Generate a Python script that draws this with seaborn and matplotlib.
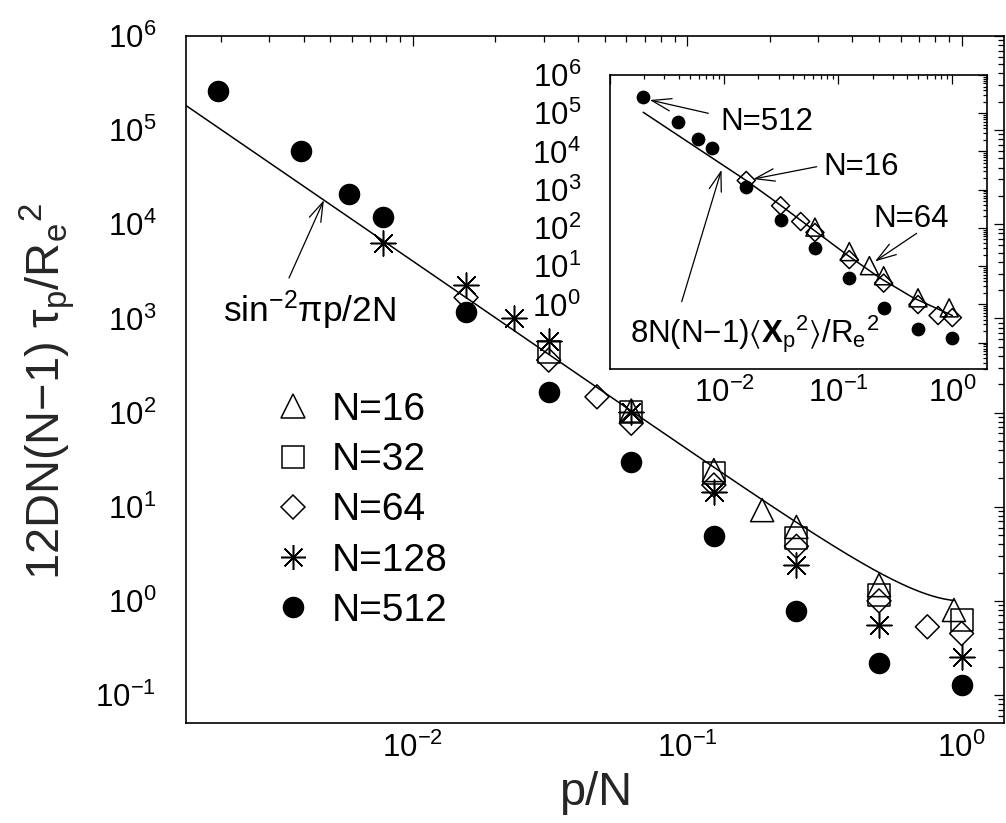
import numpy as np
import pandas as pd
import matplotlib
matplotlib.use("Agg")
import matplotlib.pyplot as plt
from matplotlib.lines import Line2D
from matplotlib.ticker import LogLocator, NullFormatter, FixedLocator
import seaborn as sns

# ---- main panel: scaled Rouse-mode relaxation times vs p/N ----
n16_x = [1/16, 2/16, 3/16, 4/16, 8/16, 15/16]
n16_y = [105, 24.5, 9.2, 6.1, 1.47, 0.80]

n32_x = [1/32, 2/32, 4/32, 8/32, 16/32, 32/32]
n32_y = [443, 102, 22.6, 4.6, 1.15, 0.63]

n64_x = [1/64, 2/64, 3/64, 4/64, 8/64, 16/64, 32/64, 48/64, 64/64]
n64_y = [1670, 361, 147, 77, 17, 3.8, 1.0, 0.53, 0.45]

n128_x = [1/128, 2/128, 3/128, 4/128, 8/128, 16/128, 32/128, 64/128, 128/128]
n128_y = [6270, 2260, 1000, 578, 102, 14.5, 2.4, 0.55, 0.255]

n512_x = [1/512, 2/512, 3/512, 4/512, 8/512, 16/512, 32/512, 64/512,
          128/512, 256/512, 512/512]
n512_y = [2.6e5, 6.0e4, 2.1e4, 1.2e4, 1160, 164, 29.6, 4.9, 0.78, 0.217, 0.128]

legend_labels = ["N=16", "N=32", "N=64", "N=128", "N=512"]

# ---- inset: scaled mode amplitudes ----
ins16_x = [1/16, 2/16, 3/16, 4/16, 8/16, 15/16]
ins16_y = [105, 24, 10.3, 5.6, 1.48, 0.81]

ins64_x = [1/64, 2/64, 3/64, 4/64, 8/64, 16/64, 32/64, 48/64, 64/64]
ins64_y = [1740, 380, 147, 76, 14.8, 3.6, 0.99, 0.51, 0.45]

ins512_x = [1/512, 2/512, 3/512, 4/512, 8/512, 16/512, 32/512, 64/512,
            128/512, 256/512, 512/512]
ins512_y = [2.6e5, 6.0e4, 2.1e4, 1.2e4, 1150, 161, 29, 4.9, 0.78, 0.23, 0.13]

ins_curve_x = [1/512, 0.0156, 0.0308, 0.0604, 0.1186, 0.232, 0.455, 1.0]
ins_curve_y = [1.06e5, 1740, 403, 90, 20, 4.9, 1.48, 0.51]

# decades carrying tick labels
main_xdecades = [-2, -1, 0]
main_ydecades = [-1, 0, 1, 2, 3, 4, 5, 6]
ins_xdecades = [-2, -1, 0]
ins_ydecades = [0, 1, 2, 3, 4, 5, 6]

main_xlim = (0.00149, 1.427)
main_ylim = (0.0508, 1e6)
ins_xlim = (0.001, 2.0)
ins_ylim = (0.02, 1e6)
curve_end = 15/16


def rouse_curve(x):
    x = np.asarray(x, dtype=float)
    return 1.0 / np.sin(np.pi * x / 2.0) ** 2


sns.set_theme(style="white")
plt.rcParams.update({
    "font.family": ["Liberation Sans", "DejaVu Sans"],
    "mathtext.fontset": "custom",
    "mathtext.rm": "Liberation Sans",
    "mathtext.it": "Liberation Sans:italic",
    "mathtext.bf": "Liberation Sans:bold",
    "mathtext.sf": "Liberation Sans",
    "mathtext.fallback": "stixsans",
    "axes.unicode_minus": True,
    "axes.edgecolor": "black",
    "text.color": "black",
    "xtick.color": "black",
    "ytick.color": "black",
})

W, H = 1006, 823
fig = plt.figure(figsize=(W / 100, H / 100), dpi=100)
fig.patch.set_facecolor("white")


def px_axes(left, top, right, bottom):
    return [left / W, 1 - bottom / H, (right - left) / W, (bottom - top) / H]


ax = fig.add_axes(px_axes(186, 36, 1004, 722.7))
axi = fig.add_axes(px_axes(610, 75, 986.7, 369.3))

EDGE = 1.1
STAR = (8, 2, 0)


def draw_set(axis, x, y, marker, ms, filled=False, lw=EDGE):
    df = pd.DataFrame({"p_over_N": x, "value": y})
    kw = dict(data=df, x="p_over_N", y="value", ax=axis, marker=marker,
              s=ms ** 2, legend=False, zorder=4, linewidth=lw)
    if marker == STAR:
        kw["color"] = "black"
    elif filled:
        kw.update(facecolor="black", edgecolor="black")
    else:
        kw.update(facecolor="none", edgecolor="black")
    sns.scatterplot(**kw)


styles = [("^", 16.6, False), ("s", 15.8, False), ("D", 12.2, False),
          (STAR, 18.0, False), ("o", 14.4, True)]

for axis in (ax, axi):
    axis.set_xscale("log")
    axis.set_yscale("log")
    axis.set_facecolor("white")

# theory curve in the main panel
cx = np.geomspace(main_xlim[0], curve_end, 400)
sns.lineplot(x=cx, y=rouse_curve(cx), ax=ax, color="black", lw=1.1,
             estimator=None, sort=False, zorder=3)

series = [(n16_x, n16_y), (n32_x, n32_y), (n64_x, n64_y),
          (n128_x, n128_y), (n512_x, n512_y)]
for (x, y), (mk, ms, fill) in zip(series, styles):
    draw_set(ax, x, y, mk, ms, fill)

# inset
sns.lineplot(x=ins_curve_x, y=ins_curve_y, ax=axi, color="black", lw=1.1,
             estimator=None, sort=False, zorder=3)
draw_set(axi, ins16_x, ins16_y, "^", 13.0)
draw_set(axi, ins64_x, ins64_y, "D", 9.2)
draw_set(axi, ins512_x, ins512_y, "o", 8.8, filled=True)

for axis, maj, mnr, xpad, ypad in ((ax, 7, 4, 7.0, 21.5), (axi, 6.5, 3.2, 6.0, 21.0)):
    for a in (axis.xaxis, axis.yaxis):
        a.set_minor_locator(LogLocator(base=10, subs=np.arange(2, 10), numticks=30))
        a.set_minor_formatter(NullFormatter())
    axis.tick_params(which="both", direction="in", top=True, right=True,
                     width=0.9, labelsize=22.5)
    axis.tick_params(which="major", length=maj)
    axis.tick_params(which="minor", length=mnr)
    axis.tick_params(axis="x", which="major", pad=xpad)
    axis.tick_params(axis="y", which="major", pad=ypad)
    for sp in axis.spines.values():
        sp.set_linewidth(1.2)
        sp.set_color("black")
    axis.set_xlabel("")
    axis.set_ylabel("")
    axis.grid(False)


def decade_ticks(axis_obj, labelled, all_decades):
    axis_obj.set_major_locator(FixedLocator([10.0 ** k for k in all_decades]))
    axis_obj.set_ticklabels([r"$10^{%d}$" % k if k in labelled else ""
                             for k in all_decades])


decade_ticks(ax.xaxis, main_xdecades, main_xdecades)
decade_ticks(ax.yaxis, main_ydecades, main_ydecades)
decade_ticks(axi.xaxis, ins_xdecades, [-3] + ins_xdecades)
decade_ticks(axi.yaxis, ins_ydecades, [-1] + ins_ydecades)

ax.set_xlim(*main_xlim)
ax.set_ylim(*main_ylim)
axi.set_xlim(*ins_xlim)
axi.set_ylim(*ins_ylim)

# axis titles
LABEL_FS = 32
ax.set_xlabel("p/N", fontsize=LABEL_FS)
ax.set_ylabel("12DN(N\u22121) \u03c4$_\\mathrm{p}$/R$_\\mathrm{e}$$^2$", fontsize=LABEL_FS)
ax.yaxis.set_label_coords(-0.133, 0.482)
ax.xaxis.set_label_coords(0.5, -0.08)

# annotations
arrow = dict(arrowstyle="->,head_length=14,head_width=4.5", lw=0.9,
             color="black", shrinkA=0, shrinkB=0, mutation_scale=1)

tip_x = 0.00474
ax.annotate("", xy=(tip_x, float(rouse_curve(tip_x))), xycoords="data",
            xytext=(0.1259, 0.6476), textcoords="axes fraction", arrowprops=arrow)
ax.text(0.0452, 0.5835, "sin$^{-2}$\u03c0p/2N", transform=ax.transAxes,
        fontsize=25.5, ha="left", va="baseline")


def ifrac(px, py):
    return ((px - 610) / 376.7, (369.3 - py) / 294.3)


INS_FS = 22.5
axi.annotate("", xy=(0.00223, 2.22e5), xycoords="data",
             xytext=ifrac(708.3, 113.3), textcoords="axes fraction", arrowprops=arrow)
axi.text(*ifrac(720, 130), "N=512", transform=axi.transAxes, fontsize=INS_FS,
         ha="left", va="baseline")

axi.annotate("", xy=(0.01796, 1893), xycoords="data",
             xytext=ifrac(816.7, 166.7), textcoords="axes fraction", arrowprops=arrow)
axi.text(*ifrac(823, 175), "N=16", transform=axi.transAxes, fontsize=INS_FS,
         ha="left", va="baseline")

axi.annotate("", xy=(0.210, 13.3), xycoords="data",
             xytext=ifrac(916.7, 233.3), textcoords="axes fraction", arrowprops=arrow)
axi.text(*ifrac(873, 226.7), "N=64", transform=axi.transAxes, fontsize=INS_FS,
         ha="left", va="baseline")

axi.annotate("", xy=(0.00949, 3310), xycoords="data",
             xytext=ifrac(681.7, 301.7), textcoords="axes fraction", arrowprops=arrow)
axi.text(*ifrac(630, 342.7),
         "8N(N\u22121)$\\langle\\mathbf{X}_\\mathrm{p}$$^2$$\\rangle$/R$_\\mathrm{e}$$^2$",
         transform=axi.transAxes, fontsize=INS_FS, ha="left", va="baseline")

# legend handles
handles = []
for (mk, ms, fill) in styles:
    if mk == STAR:
        h = Line2D([], [], ls="", marker=mk, ms=ms, color="black", mew=EDGE)
    else:
        h = Line2D([], [], ls="", marker=mk, ms=ms, mec="black",
                   mfc="black" if fill else "none", mew=EDGE)
    handles.append(h)

LEG_FS = 28
leg_fs_px = LEG_FS * 100 / 72
row_step = 50.2          # vertical distance between legend rows, px
first_row_y = 410        # centre of first legend row, px from top
text_left = 332          # left edge of legend text, px
handle_x = 293           # centre of legend symbols, px
hl = 1.0
htp = (text_left - handle_x - hl * leg_fs_px / 2) / leg_fs_px


def make_legend(spacing, anchor):
    return ax.legend(handles, legend_labels, loc="upper left", frameon=False,
                     fontsize=LEG_FS, handlelength=hl, handletextpad=htp,
                     labelspacing=spacing, borderpad=0, borderaxespad=0,
                     bbox_to_anchor=anchor, bbox_transform=fig.transFigure)


# ---- fit label sizes / positions to the layout ----
renderer = fig.canvas.get_renderer()
ax_w, ax_h = ax.bbox.width, ax.bbox.height

ls = 0.2
anchor = (handle_x / W - 0.02, 1 - 385 / H)
leg = make_legend(ls, anchor)
for _ in range(3):
    fig.canvas.draw()
    ys = [t.get_window_extent(renderer) for t in leg.get_texts()]
    centers = [(b.y0 + b.y1) / 2 for b in ys]
    step = float(np.mean(-np.diff(centers)))
    ls = ls + (row_step - step) / leg_fs_px
    leg.remove()
    leg = make_legend(ls, anchor)
fig.canvas.draw()
b0 = leg.get_texts()[0].get_window_extent(renderer)
dx = text_left - b0.x0
dy = (H - first_row_y) - (b0.y0 + b0.y1) / 2
anchor = (anchor[0] + dx / W, anchor[1] + dy / H)
leg.remove()
leg = make_legend(ls, anchor)

ylab = ax.yaxis.label
fig.canvas.draw()
bb = ylab.get_window_extent(renderer)
new_fs = LABEL_FS * (580 - 203) / bb.height
ylab.set_fontsize(new_fs)
ax.xaxis.label.set_fontsize(new_fs)
fig.canvas.draw()
bb = ylab.get_window_extent(renderer)
px, py = ylab.get_position()
ax.yaxis.set_label_coords(px + (77 - bb.x1) / ax_w,
                          py + ((H - 391.5) - (bb.y0 + bb.y1) / 2) / ax_h)

xlab = ax.xaxis.label
bb = xlab.get_window_extent(renderer)
px, py = xlab.get_position()
ax.xaxis.set_label_coords(px + (596 - (bb.x0 + bb.x1) / 2) / ax_w,
                          py + ((H - 815) - bb.y0) / ax_h)

fig.savefig("out.png", dpi=100, facecolor="white")
